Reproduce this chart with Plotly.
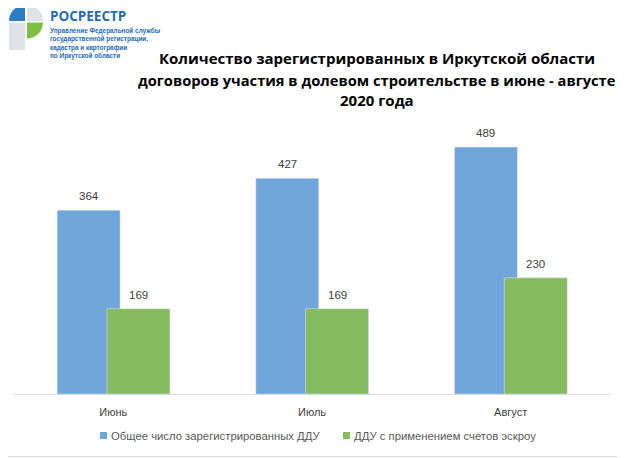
import math
import plotly.graph_objects as go

# ---- data ----
months = ["Июнь", "Июль", "Август"]
total_ddu = [364, 427, 489]
escrow_ddu = [169, 169, 230]
series_names = ["Общее число зарегистрированных ДДУ", "ДДУ с применением счетов эскроу"]
title_lines = [
    "Количество зарегистрированных в Иркутской области",
    "договоров участия в долевом строительстве в июне - августе",
    "2020 года",
]
logo_title = "РОСРЕЕСТР"
logo_lines = [
    "Управление Федеральной службы",
    "государственной регистрации,",
    "кадастра и картографии",
    "по Иркутской области",
]

# page body has an 8px margin: work in reference pixel coords, shift by OFF
OFF = 8
W, H = 625 - OFF, 458 - OFF
PX0, PX1, PY0, PY1 = 14, 610, 91, 394
L, R = PX0 - OFF, (625 - PX1)
T, B = PY0 - OFF, (458 - PY1)
PW, PH = W - L - R, H - T - B

def px(x):
    return (x - PX0) / PW

def py(y):
    return 1 - (y - PY0) / PH

TXT = "#404040"
COLORS = ["#70a6da", "#84bb5f"]
BAR_W = 0.317
OFFSETS = [-0.283, -0.032]

fig = go.Figure()
for vals, name, col, off in zip([total_ddu, escrow_ddu], series_names, COLORS, OFFSETS):
    fig.add_trace(go.Bar(
        x=months, y=vals, name=name,
        marker=dict(color=col), width=BAR_W, offset=off,
        showlegend=False,
    ))

annotations = []
# value labels above bars
for vals, off in zip([total_ddu, escrow_ddu], OFFSETS):
    for i, v in enumerate(vals):
        annotations.append(dict(x=i + off + BAR_W / 2, y=v, xref="x", yref="y",
                                text=str(v), showarrow=False, yanchor="bottom", yshift=6,
                                font=dict(size=11.5, color=TXT, family="Liberation Sans, Arial")))

shapes = []
shapes.append(dict(type="rect", xref="paper", yref="paper",
                   x0=px(OFF - 2), x1=px(623), y0=py(OFF - 2), y1=py(456.5),
                   line=dict(color="#d9d9d9", width=1), fillcolor="rgba(0,0,0,0)", layer="below"))

def poly(points):
    return "M " + " L ".join(f"{px(a):.5f},{py(b):.5f}" for a, b in points) + " Z"

def quarter(cx, cy, r, a0, a1, n=16):
    pts = [(cx, cy)]
    for i in range(n + 1):
        a = math.radians(a0 + (a1 - a0) * i / n)
        pts.append((cx + r * math.cos(a), cy - r * math.sin(a)))
    return pts

# logo emblem
shapes.append(dict(type="path", xref="paper", yref="paper",
                   path=poly(quarter(25, 21, 16, 90, 180)), fillcolor="#2b7cc1", line=dict(width=0)))
shapes.append(dict(type="path", xref="paper", yref="paper",
                   path=poly(quarter(27, 21, 16, 0, 90)), fillcolor="#dfe3e8", line=dict(width=0)))
shapes.append(dict(type="path", xref="paper", yref="paper",
                   path=poly(quarter(27, 22.5, 16, -90, 0)), fillcolor="#7dc142", line=dict(width=0)))
shapes.append(dict(type="path", xref="paper", yref="paper",
                   path=poly([(9, 22.5), (25, 22.5), (25, 50), (9, 50)]), fillcolor="#dfe3e8", line=dict(width=0)))

annotations.append(dict(xref="paper", yref="paper", x=px(48), y=py(16), xanchor="left", yanchor="middle",
                        text=f"<b>{logo_title}</b>", showarrow=False,
                        font=dict(size=13.5, color="#1f6db5", family="Open Sans")))
annotations.append(dict(xref="paper", yref="paper", x=px(48), y=py(43), xanchor="left", yanchor="middle",
                        align="left", text="<b>" + "<br>".join(logo_lines) + "</b>", showarrow=False,
                        font=dict(size=6.4, color="#1f6db5", family="Liberation Sans")))

title_y = [58, 80, 100]
title_sizes = [15, 14.7, 15]
for line, yy, sz in zip(title_lines, title_y, title_sizes):
    annotations.append(dict(xref="paper", yref="paper", x=px(377), y=py(yy), xanchor="center",
                            yanchor="middle", text=f"<b>{line}</b>", showarrow=False,
                            font=dict(size=sz, color="#000000", family="Open Sans")))

# custom legend (small square markers as in the reference)
leg_marker_x = [100, 343]
for name, col, mx in zip(series_names, COLORS, leg_marker_x):
    shapes.append(dict(type="rect", xref="paper", yref="paper",
                       x0=px(mx), x1=px(mx + 7), y0=py(432), y1=py(439),
                       fillcolor=col, line=dict(width=0)))
    annotations.append(dict(xref="paper", yref="paper", x=px(mx + 8.5), y=py(435.5),
                            xanchor="left", yanchor="middle", text=name, showarrow=False,
                            font=dict(size=11.3, color="#595959", family="Liberation Sans, Arial")))

fig.update_layout(
    width=W, height=H,
    margin=dict(l=L, r=R, t=T, b=B, pad=0, autoexpand=False),
    paper_bgcolor="white", plot_bgcolor="white",
    barmode="overlay",
    showlegend=False,
    xaxis=dict(showline=True, linecolor="#d9d9d9", linewidth=1, ticks="", showgrid=False,
               tickfont=dict(size=11, color=TXT, family="Liberation Sans, Arial"),
               ticklabelstandoff=8,
               range=[-0.5, 2.5], fixedrange=True),
    yaxis=dict(range=[0, 600], visible=False, showgrid=False, zeroline=False),
    shapes=shapes,
    annotations=annotations,
    font=dict(family="Liberation Sans, Arial"),
)

fig.write_html("out.html")
